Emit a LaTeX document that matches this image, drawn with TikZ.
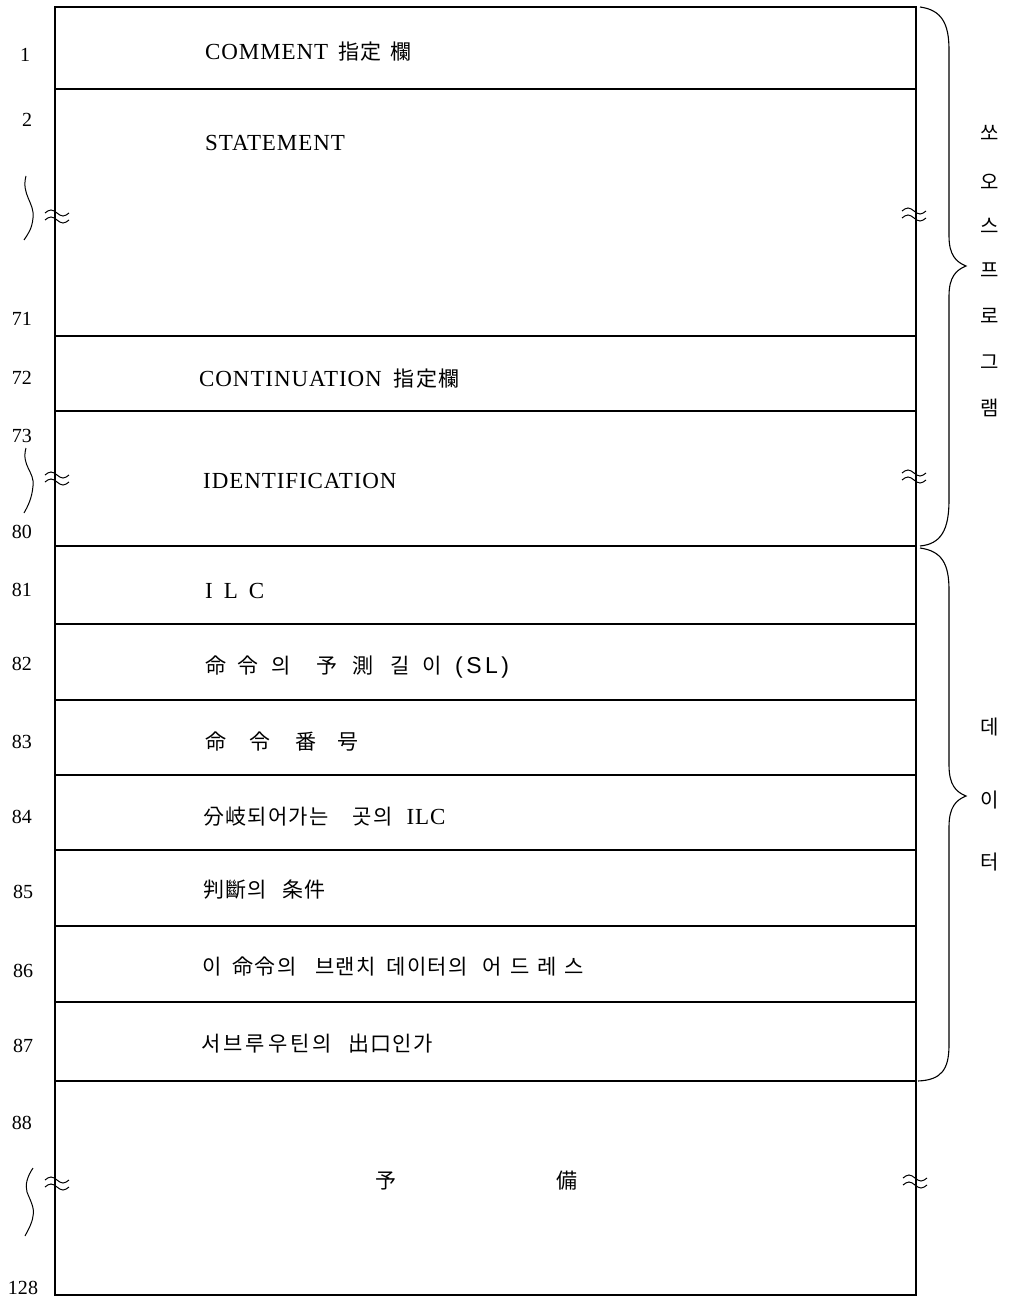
\documentclass[tikz,border=0pt]{standalone}
\usepackage{fontspec}
\setmainfont{Liberation Serif}
\newfontfamily\lsf[LetterSpace=4]{Liberation Serif}
\newfontfamily\krf[LetterSpace=6]{Noto Sans CJK KR}
\newfontfamily\krplain{Noto Sans CJK KR}
\newfontfamily\sansls[LetterSpace=15]{Liberation Sans}
\newcommand\mylt{\fontsize{23}{27}\selectfont\lsf}
\newcommand\mykr{\fontsize{21}{25}\selectfont\krf}
\newcommand\mynum{\fontsize{20}{24}\selectfont\rmfamily}
\newcommand\myside{\fontsize{20}{24}\selectfont\krplain}
\newcommand\gap[1]{\hspace*{#1pt}}
\begin{document}
\begin{tikzpicture}[x=1pt,y=-1pt,
  frame/.style={line width=1.1pt, black},
  brkline/.style={line width=1pt, black},
  lbl/.style={anchor=base west, inner sep=0pt},
  num/.style={anchor=base, inner sep=0pt, font=\mynum},
  side/.style={anchor=center, inner sep=0pt, font=\myside},
  curl/.style={line width=1pt, black},
  bracestyle/.style={line width=1.1pt, black},
  brk/.pic={
    \draw[brkline] (-12,-3) sin (-6,-6) cos (0,-3) sin (6,0) cos (12,-3);
    \draw[brkline] (-12,4) sin (-6,1) cos (0,4) sin (6,7) cos (12,4);
  }]
\useasboundingbox (0,0) rectangle (1010,1297);
\fill[white] (0,0) rectangle (1010,1297);

% table frame
\draw[frame] (55,7) rectangle (916,1295);
\foreach \yy in {89,336,411,546,624,700,775,850,926,1002,1081}
  \draw[frame] (55,\yy) -- (916,\yy);

% break marks
\pic at (57,216) {brk};
\pic at (57,478) {brk};
\pic at (57,1183) {brk};
\pic at (914,214) {brk};
\pic at (914,476) {brk};
\pic at (915,1181) {brk};

% left curly marks
\draw[curl] (26,176) .. controls (21,195) and (35,203) .. (33,218) .. controls (32,229) and (28,234) .. (24,240);
\draw[curl] (26,448) .. controls (21,466) and (35,472) .. (33,486) .. controls (32,498) and (28,506) .. (24,513);
\draw[curl] (33,1168) .. controls (27,1177) and (25,1185) .. (27,1192) .. controls (30,1200) and (35,1208) .. (33,1216) .. controls (32,1224) and (28,1230) .. (25,1236);

% right braces
\draw[bracestyle] (920,7) .. controls (942,10) and (949,24) .. (949,50) -- (949,236)
  .. controls (949,255) and (956,262) .. (966,266)
  .. controls (956,270) and (949,277) .. (949,296) -- (949,500)
  .. controls (949,530) and (941,544) .. (920,546);
\draw[bracestyle] (920,548) .. controls (942,551) and (949,564) .. (949,590) -- (949,765)
  .. controls (949,785) and (956,792) .. (966,796)
  .. controls (956,800) and (949,807) .. (949,827) -- (949,1045)
  .. controls (949,1070) and (941,1080) .. (918,1081);

% row labels
\node[lbl] (r1) at (205,60) {\mylt COMMENT\gap{10}{\mykr 指定\gap{9}欄}};
\node[lbl] (r2) at (205,151) {\mylt STATEMENT};
\node[lbl] (r3) at (199,386) {\mylt CONTINUATION\gap{12}{\mykr 指定欄}};
\node[lbl] (r4) at (203,488) {\mylt IDENTIFICATION};
\node[lbl] (r5) at (205,598) {\mylt I\gap{11}L\gap{11}C};
\node[lbl] (r6) at (205,673) {\mykr 命\gap{11}令\gap{13}의\gap{26}予\gap{15}測\gap{17}길\gap{13}이\gap{13}{\fontsize{23}{26}\selectfont\sansls (SL)}};
\node[lbl] (r7) at (205,749) {\mykr 命\gap{23}令\gap{25}番\gap{21}号};
\node[lbl] (r8) at (203,824) {\mykr 分岐되어가는\gap{24}곳의\gap{14}{\mylt ILC}};
\node[lbl] (r9) at (203,897) {\mykr 判斷의\gap{15}条件};
\node[lbl] (r10) at (202,974) {\mykr 이\gap{11}命令의\gap{19}브랜치\gap{11}데이터의\gap{15}어\gap{8}드\gap{8}레\gap{8}스};
\node[lbl] (r11) at (201,1051) {\mykr 서\gap{3}브\gap{3}루\gap{3}우\gap{3}틴\gap{3}의\gap{16}出口인가};
\node[lbl] (r12) at (375,1188) {\mykr 予\gap{160}備};

% numbers
\node[num] (n1) at (25,62) {1};
\node[num] (n2) at (27,127) {2};
\node[num] (n71) at (22,325) {71};
\node[num] (n72) at (22,384) {72};
\node[num] (n73) at (22,442) {73};
\node[num] (n80) at (22,538) {80};
\node[num] (n81) at (22,596) {81};
\node[num] (n82) at (22,670) {82};
\node[num] (n83) at (22,748) {83};
\node[num] (n84) at (22,823) {84};
\node[num] (n85) at (23,898) {85};
\node[num] (n86) at (23,977) {86};
\node[num] (n87) at (23,1052) {87};
\node[num] (n88) at (22,1129) {88};
\node[num] (n128) at (23,1294) {128};

% side labels
\node[side] (s1) at (990,133) {쏘};
\node[side] (s2) at (990,182) {오};
\node[side] (s3) at (990,226) {스};
\node[side] (s4) at (990,270) {프};
\node[side] (s5) at (990,316) {로};
\node[side] (s6) at (990,362) {그};
\node[side] (s7) at (990,408) {램};
\node[side] (d1) at (990,727) {데};
\node[side] (d2) at (990,800) {이};
\node[side] (d3) at (990,862) {터};
\end{tikzpicture}
\end{document}
